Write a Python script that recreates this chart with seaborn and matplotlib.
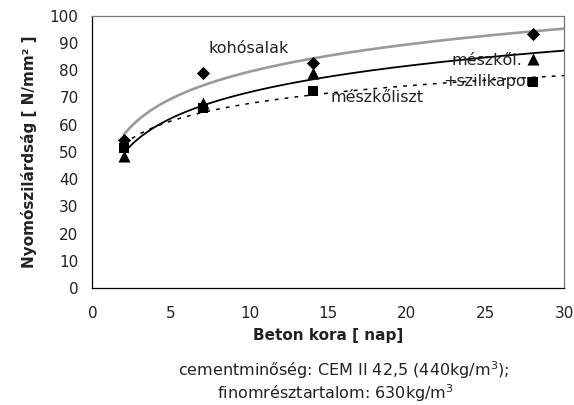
import numpy as np
import pandas as pd
import matplotlib
matplotlib.use("Agg")
import matplotlib.pyplot as plt
import seaborn as sns

days = [2, 7, 14, 28]
kohosalak = [54.3, 79.0, 82.8, 93.2]
meszkol_szilikapor = [48.5, 68.0, 78.8, 84.2]
meszkoliszt = [51.5, 66.3, 72.2, 75.6]
series_names = ["kohósalak", "mészkől.+szilikapor", "mészkőliszt"]

sns.set_theme(style="white")
plt.rcParams['font.family'] = ['DejaVu Sans']

rows = []
for name, vals in zip(series_names, [kohosalak, meszkol_szilikapor, meszkoliszt]):
    for d, v in zip(days, vals):
        rows.append({"nap": d, "ertek": v, "sorozat": name})
df = pd.DataFrame(rows)

# logarithmic trend lines fitted from the data
xs = np.linspace(2, 30, 200)
trend_rows = []
for name, vals in zip(series_names, [kohosalak, meszkol_szilikapor, meszkoliszt]):
    b, a = np.polyfit(np.log(days), vals, 1)
    for x in xs:
        trend_rows.append({"nap": x, "ertek": a + b * np.log(x), "sorozat": name})
tdf = pd.DataFrame(trend_rows)

fig = plt.figure(figsize=(5.74, 4.05), dpi=100)
ax = fig.add_axes([0.161, 0.289, 0.822, 0.672])

line_styles = {
    "kohósalak": dict(color="#9a9a9a", lw=1.9, ls="-"),
    "mészkől.+szilikapor": dict(color="black", lw=1.3, ls="-"),
    "mészkőliszt": dict(color="black", lw=1.1, ls=(0, (2.5, 4))),
}
for name in series_names:
    st = line_styles[name]
    sub = tdf[tdf.sorozat == name]
    sns.lineplot(data=sub, x="nap", y="ertek", ax=ax, color=st["color"],
                 lw=st["lw"], linestyle=st["ls"], legend=False)

markers = {"kohósalak": "D", "mészkől.+szilikapor": "^", "mészkőliszt": "s"}
sizes = {"kohósalak": 45, "mészkől.+szilikapor": 75, "mészkőliszt": 45}
for name in ["mészkőliszt", "mészkől.+szilikapor", "kohósalak"]:
    sub = df[df.sorozat == name]
    sns.scatterplot(data=sub, x="nap", y="ertek", ax=ax, marker=markers[name],
                    s=sizes[name], color="black", edgecolor="black", linewidth=0,
                    legend=False, zorder=5)

ax.set_xlim(0, 30)
ax.set_ylim(0, 100)
ax.set_xticks(np.arange(0, 31, 5))
ax.set_yticks(np.arange(0, 101, 10))
ax.tick_params(axis="x", direction="inout", length=6, width=0.8, labelsize=11, pad=10, colors="black")
ax.tick_params(axis="y", direction="out", length=5, width=0.8, labelsize=11, pad=5, colors="black")
ax.tick_params(axis="both", labelcolor="#222222")
for s in ["left", "bottom"]:
    ax.spines[s].set_color("black")
    ax.spines[s].set_linewidth(0.9)
for s in ["top", "right"]:
    ax.spines[s].set_color("#777777")
    ax.spines[s].set_linewidth(0.9)

ax.set_xlabel("Beton kora [ nap]", fontsize=11, fontweight="bold", labelpad=5, color="#222222")
ax.set_ylabel("Nyomószilárdság [ N/mm² ]", fontsize=11, fontweight="bold", labelpad=9, color="#222222")

ax.text(7.37, 88.0, "kohósalak", fontsize=11.5, va="center", ha="left", color="#222222")
ax.text(22.8, 83.5, "mészkől.", fontsize=11.5, va="center", ha="left", color="#222222")
ax.text(22.3, 75.9, "+szilikapor", fontsize=11.5, va="center", ha="left", color="#222222")
ax.text(15.15, 69.8, "mészkőliszt", fontsize=11.5, va="center", ha="left", color="#222222")

fig.text(0.598, 0.085, "cementminőség: CEM II 42,5 (440kg/m$^3$);", fontsize=11.5,
         ha="center", va="center", color="#222222")
fig.text(0.585, 0.030, "finomrésztartalom: 630kg/m$^3$", fontsize=11.5,
         ha="center", va="center", color="#222222")

fig.savefig("out.png", dpi=100)
